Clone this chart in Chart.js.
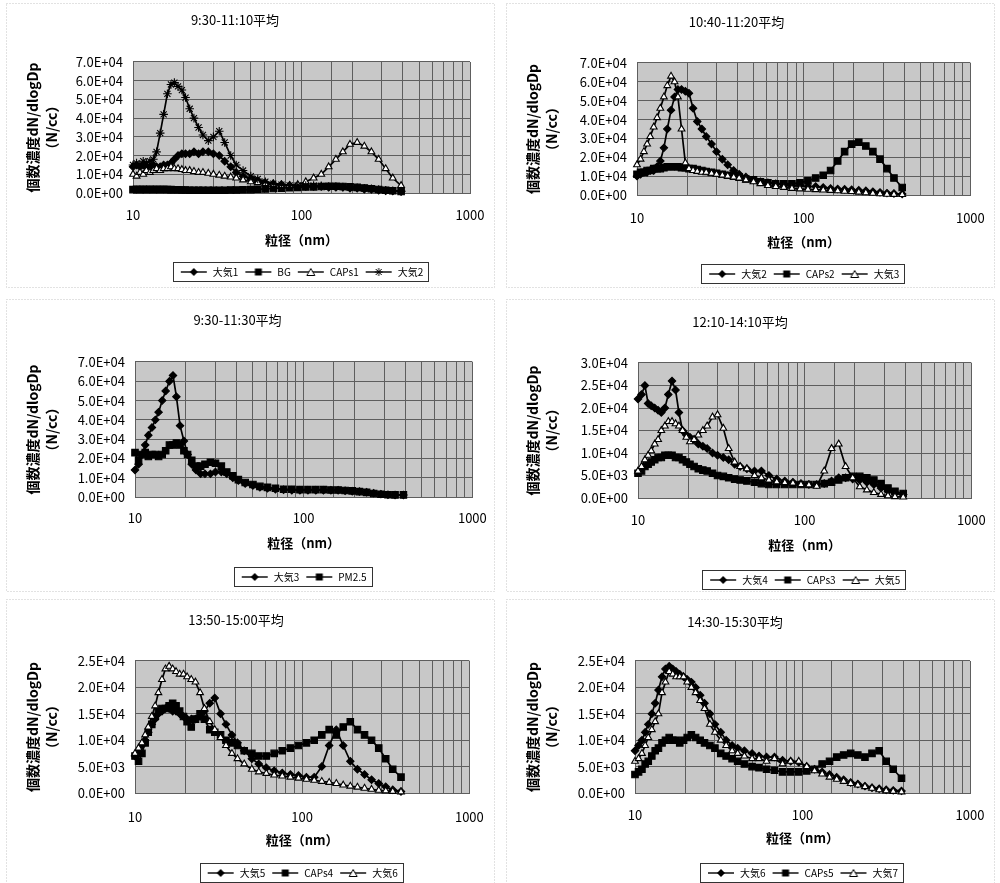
<!DOCTYPE html>
<html>
<head>
<meta charset="utf-8">
<script src="https://cdn.jsdelivr.net/npm/chart.js@4.4.0/dist/chart.umd.min.js"></script>
<style>
body{margin:0;background:#fff;width:1000px;height:883px;position:relative;overflow:hidden}
.panel{position:absolute}
</style>
</head>
<body>
<div class="panel" id="p1"><canvas id="c1"></canvas></div>
<div class="panel" id="p2"><canvas id="c2"></canvas></div>
<div class="panel" id="p3"><canvas id="c3"></canvas></div>
<div class="panel" id="p4"><canvas id="c4"></canvas></div>
<div class="panel" id="p5"><canvas id="c5"></canvas></div>
<div class="panel" id="p6"><canvas id="c6"></canvas></div>
<script>
// particle diameter bins (nm)
var dp = [10,10.5,11,11.5,12,12.6,13.2,13.8,14.5,15.2,16,16.8,17.6,18.5,19.5,20.5,21.7,23,24.5,26,28,30,32.5,35,38,41,45,50,55,61,68,76,85,95,106,118,131,145,160,176,194,214,236,260,287,316,348,390];

var xTicks = [10, 100, 1000];
var titles = ['9:30-11:10平均', '10:40-11:20平均', '9:30-11:30平均', '12:10-14:10平均', '13:50-15:00平均', '14:30-15:30平均'];
var yMax = [7e4, 7e4, 7e4, 3e4, 2.5e4, 2.5e4];
var yStep = [1e4, 1e4, 1e4, 5e3, 5e3, 5e3];
var xTitle = '粒径（nm）';
var yTitle = ['個数濃度dN/dlogDp', '（N/cc）'];

// chart 1
var s1_taiki1 = [14e3,15e3,14e3,15e3,14e3,14e3,15e3,14e3,14e3,15e3,
 15e3,16e3,18e3,20e3,21e3,21e3,21e3,22e3,21e3,22e3,
 22e3,21e3,20e3,17e3,14e3,11e3,9e3,7.5e3,6.5e3,5.5e3,
 5e3,4.5e3,4e3,4e3,3.5e3,3.5e3,3.5e3,3e3,3e3,3e3,
 2.5e3,2.5e3,2e3,2e3,1.5e3,1.2e3,1e3,0.8e3];
var s1_BG = [1.8e3,2e3,1.8e3,2e3,1.8e3,2e3,1.8e3,2e3,1.8e3,2e3,
 1.8e3,1.8e3,1.7e3,1.7e3,1.6e3,1.6e3,1.5e3,1.5e3,1.5e3,1.5e3,
 1.5e3,1.5e3,1.5e3,1.5e3,1.6e3,1.6e3,1.7e3,1.8e3,2e3,2.2e3,
 2.4e3,2.6e3,2.8e3,3e3,3.2e3,3.3e3,3.5e3,3.6e3,3.6e3,3.5e3,
 3.3e3,3e3,2.7e3,2.3e3,1.9e3,1.5e3,1.2e3,0.8e3];
var s1_CAPs1 = [10e3,9e3,11e3,10e3,12e3,11e3,12e3,13e3,12e3,13e3,
 13e3,14e3,13e3,13e3,12.5e3,12e3,12e3,11.5e3,11e3,11e3,
 10.5e3,10e3,9.5e3,9e3,8.5e3,8e3,7e3,6e3,5.5e3,5e3,
 4.5e3,4e3,4e3,4.5e3,6e3,8e3,10e3,14e3,18e3,22e3,
 26e3,27e3,25e3,22e3,18e3,13e3,8e3,4e3];
var s1_taiki2 = [15e3,16e3,15e3,17e3,16e3,17e3,18e3,22e3,32e3,42e3,
 53e3,58e3,59e3,57e3,55e3,51e3,45e3,40e3,35e3,31e3,
 28e3,30e3,33e3,27e3,20e3,15e3,12e3,9e3,7.5e3,6e3,
 5e3,4.5e3,4e3,4e3,4e3,4e3,3.8e3,3.5e3,3.5e3,3.2e3,
 3e3,2.8e3,2.5e3,2.2e3,1.8e3,1.5e3,1.2e3,1e3];

// chart 2
var s2_taiki2 = [10e3,11e3,12e3,12e3,13e3,13e3,15e3,18e3,25e3,35e3,
 45e3,52e3,56e3,56e3,55e3,54e3,46e3,39e3,35e3,31e3,
 27e3,23e3,19e3,16e3,13e3,11e3,9.5e3,8e3,7e3,6.5e3,
 6e3,5.5e3,5e3,5e3,4.5e3,4.5e3,4e3,3.5e3,3.2e3,3e3,
 2.8e3,2.5e3,2.2e3,1.8e3,1.4e3,1e3,0.8e3,0.5e3];
var s2_CAPs2 = [11e3,12e3,12e3,13e3,13e3,14e3,14e3,14e3,14.5e3,15e3,
 15e3,15e3,15e3,14.5e3,14.5e3,14e3,14e3,13.5e3,13e3,12.5e3,
 12e3,11.5e3,11e3,10.5e3,10e3,9.5e3,8.5e3,8e3,7e3,6.5e3,
 6e3,6e3,6e3,6.5e3,7.5e3,9e3,10.5e3,13e3,18e3,23e3,
 27e3,28e3,26e3,23e3,19e3,14e3,9e3,4e3];
var s2_taiki3 = [16e3,19e3,23e3,27e3,31e3,36e3,41e3,46e3,52e3,58e3,
 63e3,60e3,52e3,35e3,17e3,14e3,13e3,12.5e3,12e3,12e3,
 11.5e3,11e3,10.5e3,10e3,9.5e3,9e3,8e3,7e3,6e3,5e3,
 4.5e3,4e3,3.5e3,3.2e3,3e3,2.8e3,2.6e3,2.4e3,2.2e3,2e3,
 1.8e3,1.5e3,1.2e3,0.9e3,0.6e3,0.4e3,0.3e3,0.2e3];

// chart 3
var s3_taiki3 = [14e3,17e3,22e3,27e3,32e3,36e3,40e3,44e3,50e3,55e3,
 60e3,63e3,52e3,37e3,29e3,22e3,17e3,14e3,12e3,12e3,
 12e3,13e3,13e3,12e3,10e3,8.5e3,7e3,6e3,5e3,4.5e3,
 4e3,3.8e3,3.5e3,3.5e3,3.5e3,3.5e3,3.5e3,3.5e3,3.5e3,3.2e3,
 3e3,2.8e3,2.5e3,2e3,1.5e3,1.2e3,1e3,1e3];
var s3_PM25 = [23e3,19e3,22e3,23e3,21e3,22e3,22e3,21e3,22e3,24e3,
 27e3,27e3,28e3,27e3,24e3,22e3,19e3,16e3,16e3,17e3,
 18e3,17.5e3,16e3,13e3,11e3,9e3,7.5e3,6.5e3,5.5e3,5e3,
 4.5e3,4e3,4e3,3.8e3,3.8e3,3.8e3,3.8e3,3.6e3,3.6e3,3.4e3,
 3.2e3,2.8e3,2.4e3,1.8e3,1.4e3,1.2e3,1.1e3,1.1e3];

// chart 4
var s4_taiki4 = [22e3,23e3,25e3,21e3,20.5e3,20e3,19.5e3,19e3,20e3,23e3,
 26e3,24e3,19e3,15e3,14e3,13.5e3,13e3,12e3,11.5e3,11e3,
 10e3,9.5e3,9e3,8.5e3,7.5e3,7e3,6.5e3,6e3,6e3,5e3,
 4.2e3,3.8e3,3.5e3,3.2e3,3e3,3e3,3.2e3,3.8e3,4.5e3,4.5e3,
 4.2e3,4e3,3.5e3,3e3,2.2e3,1.5e3,1e3,0.8e3];
var s4_CAPs3 = [5.5e3,6e3,7e3,7.5e3,8e3,8.5e3,9e3,9e3,9.5e3,9.5e3,
 9.5e3,9e3,9e3,8.5e3,8e3,7.5e3,7e3,6.5e3,6.2e3,6e3,
 5.5e3,5e3,4.8e3,4.5e3,4.2e3,4e3,3.8e3,3.5e3,3.2e3,3e3,
 3e3,3e3,3e3,3e3,3e3,3e3,3.2e3,3.5e3,4e3,4.5e3,
 4.8e3,4.8e3,4.5e3,4e3,3.2e3,2.2e3,1.5e3,1e3];
var s4_taiki5 = [6e3,7e3,8.5e3,9.5e3,10.5e3,12e3,13e3,15e3,16e3,17e3,
 17e3,16.5e3,16e3,15e3,13.5e3,12.5e3,13e3,14e3,15e3,16e3,
 18e3,18.5e3,15.5e3,11e3,8e3,7e3,6.5e3,5e3,4.5e3,4e3,
 3.6e3,3.4e3,3.3e3,3e3,2.9e3,2.6e3,6e3,11e3,12e3,7e3,
 4.5e3,2.5e3,1.8e3,1.2e3,0.8e3,0.5e3,0.3e3,0.2e3];

// chart 5
var s5_taiki5 = [7e3,7.5e3,9e3,10e3,11.5e3,13e3,14e3,15e3,15.5e3,16e3,
 16e3,15.5e3,15.5e3,15e3,14.5e3,14e3,14e3,14e3,14.5e3,15.5e3,
 17e3,18e3,15e3,13e3,11e3,9.5e3,8e3,6.5e3,5.5e3,4.8e3,
 4.2e3,3.8e3,3.5e3,3.3e3,3e3,3e3,5e3,9e3,12e3,9e3,
 6e3,4.5e3,3.5e3,2.5e3,1.8e3,1.2e3,0.6e3,0.3e3];
var s5_CAPs4 = [7e3,6e3,7.5e3,9.5e3,11.5e3,13e3,14.5e3,15.5e3,16e3,16e3,
 16.5e3,17e3,16.5e3,15.5e3,14.5e3,13.5e3,12.5e3,14e3,15e3,14e3,
 12e3,11.5e3,11e3,10e3,9.5e3,9e3,8e3,7.5e3,7e3,7e3,
 7.5e3,8e3,8.5e3,9e3,9.5e3,10e3,11e3,12e3,11e3,12.5e3,
 13.5e3,12e3,11e3,10e3,8.5e3,6.5e3,4.5e3,3e3];
var s5_taiki6 = [7.5e3,8.5e3,9.5e3,11e3,12.5e3,14.5e3,16.5e3,19e3,21.5e3,23.5e3,
 24e3,23.5e3,23e3,22.5e3,22.5e3,22e3,21.5e3,21e3,19e3,16e3,
 13.5e3,12e3,10.5e3,9e3,7.5e3,6.5e3,5.5e3,4.5e3,4e3,3.7e3,
 3.4e3,3.2e3,3e3,2.8e3,2.6e3,2.4e3,2.2e3,2e3,1.8e3,1.5e3,
 1.3e3,1.1e3,0.9e3,0.7e3,0.5e3,0.4e3,0.3e3,0.2e3];

// chart 6
var s6_taiki6 = [8e3,9e3,10e3,11.5e3,13e3,15e3,17e3,19.5e3,22e3,23.5e3,
 24e3,23.5e3,23e3,22.5e3,22e3,21.5e3,21e3,20e3,18.5e3,17e3,
 15e3,13e3,11.5e3,10e3,9e3,8.5e3,8e3,7.5e3,7e3,6.8e3,
 6.8e3,6.2e3,6e3,5.8e3,5e3,4.5e3,4e3,3.5e3,3e3,2.5e3,
 2e3,1.7e3,1.3e3,1e3,0.8e3,0.6e3,0.5e3,0.4e3];
var s6_CAPs5 = [3.5e3,4e3,4.5e3,5.5e3,6e3,7e3,8e3,8.5e3,9.5e3,10e3,
 10.5e3,10e3,10e3,9.5e3,10e3,10.5e3,11e3,10.5e3,10e3,9.5e3,
 9e3,8.5e3,7.5e3,7e3,6.5e3,6e3,5.5e3,5e3,4.8e3,4.5e3,
 4.3e3,4e3,4e3,4e3,4.2e3,4.5e3,5.5e3,6e3,6.8e3,7.2e3,
 7.5e3,7.2e3,6.8e3,7.5e3,8e3,6e3,4.5e3,2.8e3];
var s6_taiki7 = [6e3,6.5e3,7.5e3,9e3,10.5e3,12e3,13.5e3,15e3,19e3,21e3,
 23e3,22.5e3,22e3,22e3,22e3,21e3,20e3,19e3,17.5e3,16e3,
 13e3,11.5e3,10e3,9e3,8e3,7.5e3,7e3,6.5e3,6.5e3,6e3,
 6.5e3,5.5e3,6e3,6e3,5e3,4.2e3,3.6e3,3e3,2.6e3,2.2e3,
 1.8e3,1.5e3,1.2e3,0.9e3,0.6e3,0.4e3,0.3e3,0.2e3];

var seriesSets = [
  [{label:'大気1', data:s1_taiki1, mk:'diamond'}, {label:'BG', data:s1_BG, mk:'square'},
   {label:'CAPs1', data:s1_CAPs1, mk:'triangle'}, {label:'大気2', data:s1_taiki2, mk:'star'}],
  [{label:'大気2', data:s2_taiki2, mk:'diamond'}, {label:'CAPs2', data:s2_CAPs2, mk:'square'},
   {label:'大気3', data:s2_taiki3, mk:'triangle'}],
  [{label:'大気3', data:s3_taiki3, mk:'diamond'}, {label:'PM2.5', data:s3_PM25, mk:'square'}],
  [{label:'大気4', data:s4_taiki4, mk:'diamond'}, {label:'CAPs3', data:s4_CAPs3, mk:'square'},
   {label:'大気5', data:s4_taiki5, mk:'triangle'}],
  [{label:'大気5', data:s5_taiki5, mk:'diamond'}, {label:'CAPs4', data:s5_CAPs4, mk:'square'},
   {label:'大気6', data:s5_taiki6, mk:'triangle'}],
  [{label:'大気6', data:s6_taiki6, mk:'diamond'}, {label:'CAPs5', data:s6_CAPs5, mk:'square'},
   {label:'大気7', data:s6_taiki7, mk:'triangle'}]
];

// panel placement on the page (canvas coords for the plot box)
var panels = [
 {left:0,   top:0,   w:500, h:292, L:133, R:470, T:62, B:193, titleY:20, tickY:215, xTitleY:240, legendY:272},
 {left:500, top:0,   w:500, h:292, L:137, R:473, T:63, B:195, titleY:22, tickY:218, xTitleY:242, legendY:274},
 {left:0,   top:296, w:500, h:300, L:135, R:475, T:66, B:201, titleY:24, tickY:222, xTitleY:247, legendY:281},
 {left:500, top:296, w:500, h:300, L:138, R:480, T:67, B:202, titleY:26, tickY:224, xTitleY:249, legendY:284},
 {left:0,   top:596, w:500, h:300, L:135, R:472, T:65, B:197, titleY:24, tickY:221, xTitleY:244, legendY:277},
 {left:500, top:596, w:500, h:300, L:135, R:470, T:65, B:197, titleY:26, tickY:219, xTitleY:242, legendY:277}
];

var MARK = {
  diamond:  {style:'rectRot', r:3.7, fill:'#000'},
  square:   {style:'rect', r:4.6, fill:'#000'},
  triangle: {style:'triangle', r:3.9, fill:'#fff'},
  star:     {style:'star', r:4.3, fill:'#000'}
};
var GRID = '#5e5e5e';

Chart.defaults.font.family = "'Noto Sans CJK JP','Noto Sans',sans-serif";
Chart.defaults.color = '#000';

function fmtE(v) {
  if (v === 0) return '0.0E+00';
  var e = Math.floor(Math.log10(v) + 1e-9);
  var m = v / Math.pow(10, e);
  return m.toFixed(1) + 'E+' + (e < 10 ? '0' : '') + e;
}

// little line+marker pictures for the legend, like excel
function makeIcon(key) {
  var m = MARK[key];
  var c = document.createElement('canvas');
  c.width = 28; c.height = 10;
  var g = c.getContext('2d');
  g.strokeStyle = '#000'; g.lineWidth = 1.4;
  g.beginPath(); g.moveTo(1, 5); g.lineTo(27, 5); g.stroke();
  g.fillStyle = m.fill; g.lineWidth = 1;
  g.beginPath();
  if (key === 'diamond') { g.moveTo(14,1); g.lineTo(18,5); g.lineTo(14,9); g.lineTo(10,5); g.closePath(); g.fill(); }
  else if (key === 'square') { g.rect(10.5,1.5,7,7); g.fill(); }
  else if (key === 'triangle') { g.moveTo(14,1.5); g.lineTo(18,8.5); g.lineTo(10,8.5); g.closePath(); g.fill(); g.stroke(); }
  else { g.moveTo(10,5); g.lineTo(18,5); g.moveTo(14,1); g.lineTo(14,9); g.moveTo(11,2); g.lineTo(17,8); g.moveTo(17,2); g.lineTo(11,8); g.stroke(); }
  return c;
}
var icons = {diamond: makeIcon('diamond'), square: makeIcon('square'), triangle: makeIcon('triangle'), star: makeIcon('star')};

var panelDeco = {
  id: 'panelDeco',
  beforeDraw: function(chart) {
    var ctx = chart.ctx, a = chart.chartArea;
    ctx.save();
    ctx.strokeStyle = '#c4c4c4'; ctx.lineWidth = 1; ctx.setLineDash([1, 2]);
    ctx.strokeRect(6.5, 3.5, chart.width - 12, chart.height - 8);
    ctx.setLineDash([]);
    ctx.fillStyle = '#c8c8c8';
    ctx.fillRect(a.left, a.top, a.right - a.left, a.bottom - a.top);
    ctx.restore();
  },
  afterDraw: function(chart) {
    var hb = chart.legend && chart.legend.legendHitBoxes;
    if (!hb || !hb.length) return;
    var l = Math.min.apply(null, hb.map(function(b){ return b.left; }));
    var r = Math.max.apply(null, hb.map(function(b){ return b.left + b.width; }));
    var t = Math.min.apply(null, hb.map(function(b){ return b.top; }));
    var bt = Math.max.apply(null, hb.map(function(b){ return b.top + b.height; }));
    var ctx = chart.ctx;
    ctx.save();
    ctx.strokeStyle = '#333'; ctx.lineWidth = 1;
    ctx.strokeRect(Math.round(l) - 6.5, Math.round(t) - 4.5, Math.round(r - l) + 12, Math.round(bt - t) + 9);
    ctx.restore();
  }
};

function build(i) {
  var p = panels[i];
  var box = document.getElementById('p' + (i + 1));
  box.style.left = p.left + 'px'; box.style.top = p.top + 'px';
  box.style.width = p.w + 'px'; box.style.height = p.h + 'px';
  var series = seriesSets[i];
  var n = series.length;
  var datasets = series.map(function(s, k) {
    var m = MARK[s.mk];
    return {
      label: s.label, mk: s.mk,
      data: dp.map(function(d, j){ return {x: d, y: s.data[j]}; }),
      borderColor: '#000', borderWidth: 1.7, tension: 0, fill: false,
      pointStyle: m.style, pointRadius: m.r, pointHoverRadius: m.r,
      pointBackgroundColor: m.fill, pointBorderColor: '#000', pointBorderWidth: 1.1,
      order: n - k, clip: 5
    };
  });
  var legendTop = p.legendY - 11;
  var tPadTop = p.titleY - 7.8;
  new Chart(document.getElementById('c' + (i + 1)), {
    type: 'line',
    data: {datasets: datasets},
    options: {
      responsive: true, maintainAspectRatio: false, animation: false,
      layout: {padding: {left: 0, right: p.w - p.R, top: 0, bottom: p.h - legendTop - 26}},
      plugins: {
        title: {display: true, text: titles[i], color: '#000', font: {size: 13, weight: 'normal'},
                padding: {top: tPadTop, bottom: p.T - tPadTop - 15.6}},
        legend: {
          position: 'bottom', fullSize: false,
          labels: {
            usePointStyle: true, pointStyleWidth: 28, boxHeight: 10, padding: 6,
            font: {size: 10}, color: '#000',
            generateLabels: function(chart) {
              return chart.data.datasets.map(function(ds, k) {
                return {text: ds.label, pointStyle: icons[ds.mk], datasetIndex: k, hidden: false,
                        lineWidth: 0, strokeStyle: 'rgba(0,0,0,0)', fillStyle: 'rgba(0,0,0,0)', fontColor: '#000'};
              });
            }
          }
        },
        tooltip: {enabled: false}
      },
      scales: {
        x: {
          type: 'logarithmic', min: 10, max: 1000,
          grid: {color: GRID, drawTicks: false}, border: {color: GRID},
          ticks: {autoSkip: false, maxRotation: 0, minRotation: 0, padding: p.tickY - p.B - 7.8,
                  font: {size: 13}, color: '#000',
                  callback: function(v) {
                    return xTicks.some(function(t){ return Math.abs(t - v) / t < 1e-6; }) ? String(Math.round(v)) : '';
                  }},
          title: {display: true, text: xTitle, color: '#000', font: {size: 13, weight: 'bold'},
                  padding: {top: 0, bottom: legendTop - p.xTitleY - 7.8}},
          afterFit: function(s) { s.height = legendTop - p.B; }
        },
        y: {
          min: 0, max: yMax[i],
          grid: {color: GRID, drawTicks: false}, border: {color: GRID},
          ticks: {stepSize: yStep[i], padding: 10, font: {size: 13}, color: '#000', callback: fmtE},
          title: {display: true, text: yTitle, color: '#000', font: {size: 14, weight: 'bold', lineHeight: 1.35},
                  padding: {top: 23.5, bottom: 0}},
          afterFit: function(s) { s.width = p.L; }
        }
      }
    },
    plugins: [panelDeco]
  });
}

for (var i = 0; i < 6; i++) build(i);
</script>
</body>
</html>
